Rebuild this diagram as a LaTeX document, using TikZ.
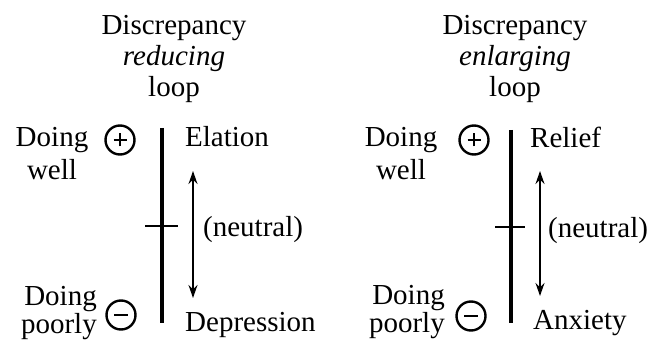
\documentclass[tikz,border=0pt]{standalone}
\usepackage{fontspec}
\setmainfont{Liberation Serif}
\usetikzlibrary{arrows.meta}

\begin{document}
\begin{tikzpicture}[x=1pt, y=-1pt]
    \tikzset{
        wordtext/.style={font=\fontsize{29}{31}\selectfont, inner sep=0pt},
        axisline/.style={draw=black, line width=3.2pt},
        tickline/.style={draw=black, line width=2.8pt},
        swing/.style={
            {Stealth[length=13pt, width=9pt]}-{Stealth[length=13pt, width=9pt]},
            draw=black, line width=1.4pt
        },
        signring/.style={draw, circle, line width=2.4pt, minimum size=29pt, inner sep=0pt},
        signbar/.style={draw=black, line width=1.8pt}
    }
    \useasboundingbox (0,0) rectangle (652,344);

    % left panel: reducing loop
    \node[wordtext, align=center, anchor=base] (ltitle) at (174,97)
        {Discrepancy\\\textit{reducing}\\loop};
    \node[wordtext, align=center, anchor=base] (lwell) at (52,180) {Doing\\[2pt]well};
    \node[wordtext, align=right, anchor=base east] (lpoorly) at (97,333) {Doing\\[-3pt]poorly};

    \node[signring] (lplus) at (120,140) {};
    \draw[signbar] ([xshift=-6.5pt]lplus.center) -- ([xshift=6.5pt]lplus.center);
    \draw[signbar] ([yshift=-6.5pt]lplus.center) -- ([yshift=6.5pt]lplus.center);
    \node[signring] (lminus) at (121,315) {};
    \draw[signbar, line width=2.5pt] ([xshift=-7pt]lminus.center) -- ([xshift=7pt]lminus.center);

    \coordinate (ltop) at (162,128);
    \coordinate (lbottom) at (162,323);
    \draw[axisline] (ltop) -- (lbottom);
    \coordinate (ltickl) at (145,226);
    \coordinate (ltickr) at (178,226);
    \draw[tickline] (ltickl) -- (ltickr);

    \coordinate (lup) at (193,171);
    \coordinate (ldown) at (193,298);
    \draw[swing] (lup) -- (ldown);

    \node[wordtext, anchor=base west] (lelation) at (185,147) {Elation};
    \node[wordtext, anchor=base west] (lneutral) at (203,237) {(neutral)};
    \node[wordtext, anchor=base west] (ldepression) at (185,331) {Depression};

    % right panel: enlarging loop
    \node[wordtext, align=center, anchor=base] (rtitle) at (515,97)
        {Discrepancy\\\textit{enlarging}\\loop};
    \node[wordtext, align=center, anchor=base] (rwell) at (401,180) {Doing\\[2pt]well};
    \node[wordtext, align=right, anchor=base east] (rpoorly) at (445,332) {Doing\\[-3pt]poorly};

    \node[signring] (rplus) at (474,140) {};
    \draw[signbar] ([xshift=-6.5pt]rplus.center) -- ([xshift=6.5pt]rplus.center);
    \draw[signbar] ([yshift=-6.5pt]rplus.center) -- ([yshift=6.5pt]rplus.center);
    \node[signring] (rminus) at (471,316) {};
    \draw[signbar, line width=2.5pt] ([xshift=-7pt]rminus.center) -- ([xshift=7pt]rminus.center);

    \coordinate (rtop) at (511,130);
    \coordinate (rbottom) at (511,323);
    \draw[axisline] (rtop) -- (rbottom);
    \coordinate (rtickl) at (495,227);
    \coordinate (rtickr) at (525,227);
    \draw[tickline] (rtickl) -- (rtickr);

    \coordinate (rup) at (540,171);
    \coordinate (rdown) at (540,296);
    \draw[swing] (rup) -- (rdown);

    \node[wordtext, anchor=base west] (rrelief) at (530,148) {Relief};
    \node[wordtext, anchor=base west] (rneutral) at (548,238) {(neutral)};
    \node[wordtext, anchor=base west] (ranxiety) at (533,329) {Anxiety};
\end{tikzpicture}
\end{document}
